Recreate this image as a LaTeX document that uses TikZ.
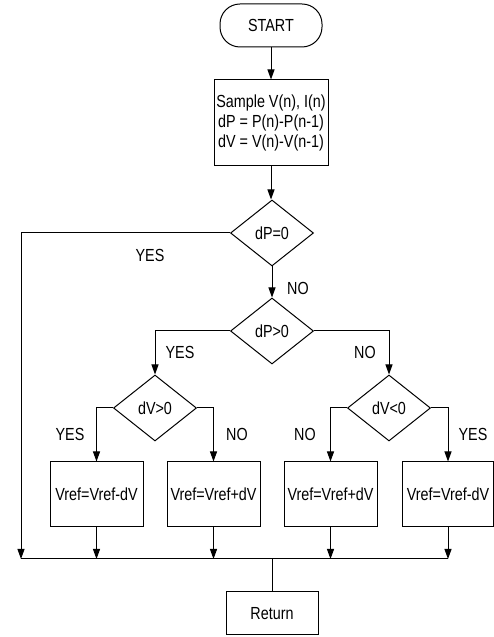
\documentclass[tikz,border=0pt]{standalone}
\usepackage{fontspec}
\setmainfont{Liberation Sans}[FakeStretch=0.82]
\usetikzlibrary{shapes.geometric,arrows.meta}
\begin{document}
\begin{tikzpicture}[x=1pt,y=1pt,
  every node/.style={font=\fontsize{17.5}{20}\selectfont},
  line/.style={draw=black,line width=1pt},
  arr/.style={line,-{Triangle[length=10pt,width=7pt]}},
  term/.style={line,rounded corners=20pt,minimum width=102pt,minimum height=43pt,inner sep=0pt},
  procbox/.style={line,minimum width=93pt,minimum height=65pt,inner sep=0pt,align=center},
  decision/.style={line,diamond,minimum width=83pt,minimum height=66pt,inner sep=0pt},
  lbl/.style={inner sep=0pt}]
\useasboundingbox (0,0) rectangle (494,637);
\node[term] (start) at (271,611.5) {START};
\node[procbox,minimum width=114pt,minimum height=86pt] (sample) at (271,514) {Sample V(n), I(n)\\dP = P(n)-P(n-1)\\dV = V(n)-V(n-1)};
\node[decision] (d1) at (272,404) {dP=0};
\node[decision] (d2) at (272,306) {dP>0};
\node[decision] (d3) at (155,229) {dV>0};
\node[decision] (d4) at (389,229) {dV<0};
\node[procbox] (b1) at (96.5,142.5) {Vref=Vref-dV};
\node[procbox] (b2) at (213.5,142.5) {Vref=Vref+dV};
\node[procbox] (b3) at (330.5,142.5) {Vref=Vref+dV};
\node[procbox,minimum width=91pt] (b4) at (448,142.5) {Vref=Vref-dV};
\node[procbox,minimum width=92pt,minimum height=43pt] (ret) at (272,23.5) {Return};
\coordinate (lt) at (21,404);
\coordinate (busL) at (21,78);
\coordinate (busR) at (448,78);
\coordinate (busM) at (272,78);
\node[lbl] (y1) at (150,382) {YES};
\node[lbl] (n1) at (298,349) {NO};
\node[lbl] (y2) at (180,285) {YES};
\node[lbl] (n2) at (365,285) {NO};
\node[lbl] (y3) at (70,203) {YES};
\node[lbl] (n3) at (237,203) {NO};
\node[lbl] (n4) at (305,203) {NO};
\node[lbl] (y4) at (473,203) {YES};
\draw[arr] (start) -- (sample);
\draw[arr] (sample.south) -- (sample.south |- d1.north);
\draw[arr] (d1.west) -- (lt) -- (busL);
\draw[arr] (d1) -- (d2);
\draw[arr] (d2.west) -| (d3.north);
\draw[arr] (d2.east) -| (d4.north);
\draw[arr] (d3.west) -| (b1.north);
\draw[arr] (d3.east) -| (b2.north);
\draw[arr] (d4.west) -| (b3.north);
\draw[arr] (d4.east) -| (b4.north);
\foreach \b in {b1,b2,b3,b4} \draw[arr] (\b.south) -- (\b.south |- busL);
\draw[line] (busL) -- (busR);
\draw[line] (busM) -- (ret.north);
\end{tikzpicture}
\end{document}
